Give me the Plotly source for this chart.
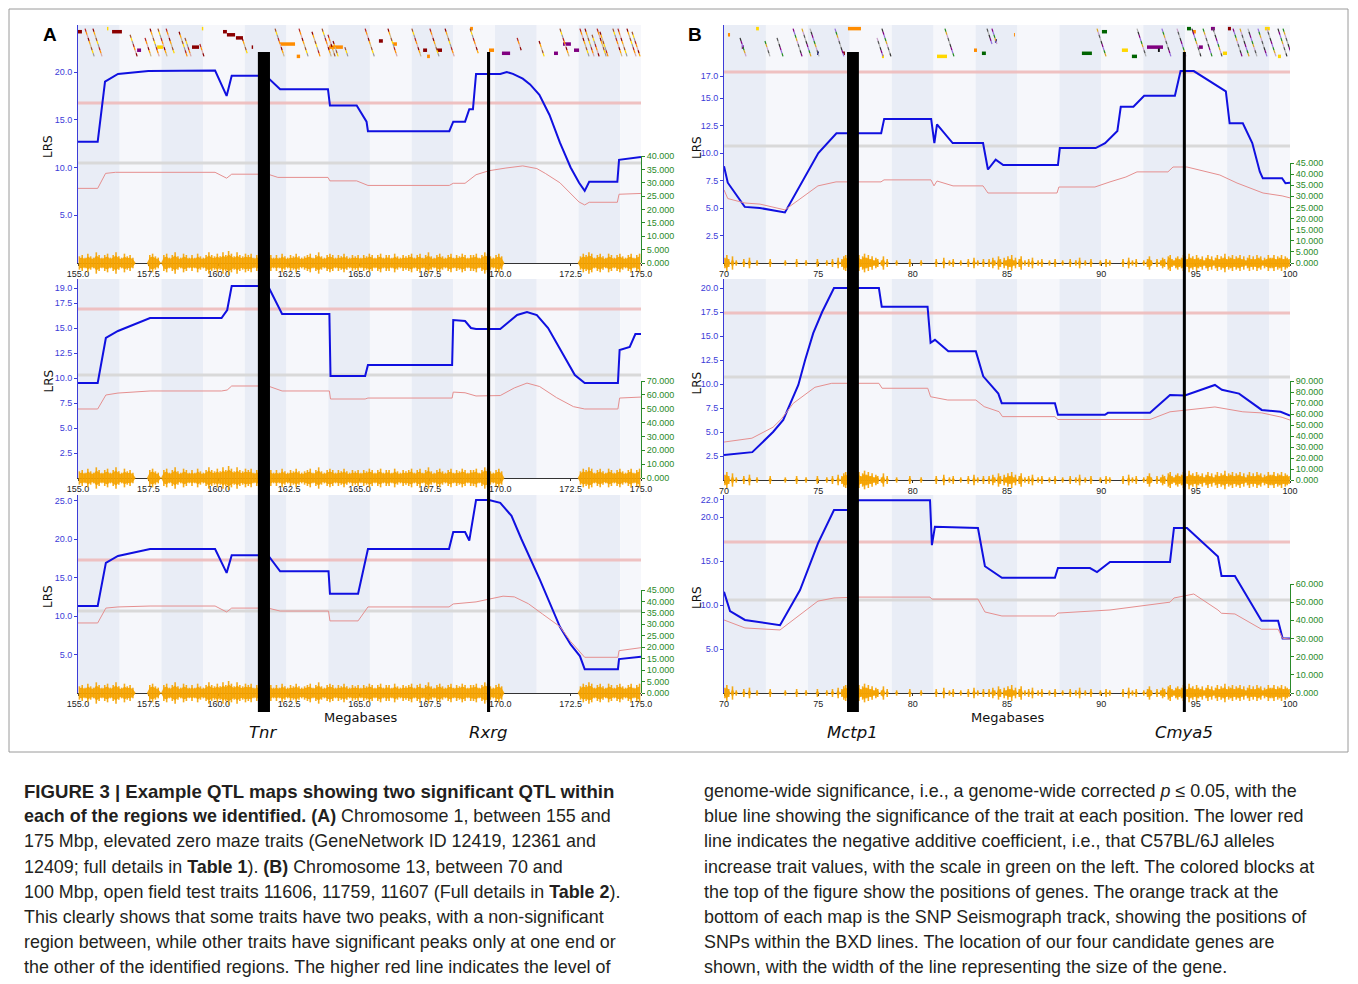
import plotly.graph_objects as go

W, H = 1358, 984

# ---------------- DATA ----------------
# Panel A: Chr 1, 155-175 Mb
A_RANGE = [155.0, 175.0]
A_XTICKS = [155.0, 157.5, 160.0, 162.5, 165.0, 167.5, 170.0, 172.5, 175.0]
A_XTICKTEXT = ["155.0", "157.5", "160.0", "162.5", "165.0", "167.5", "170.0", "172.5", "175.0"]

a1_mb = [155.0, 155.7, 155.96, 156.42, 157.5, 159.87, 160.28, 160.46, 161.6, 161.75, 162.18, 163.88, 163.95,
         164.9, 165.25, 165.3, 168.19, 168.33, 168.75, 168.9, 169.03, 169.14, 170.0, 170.23, 170.45, 170.8,
         171.06, 171.39, 171.75, 172.12, 172.5, 172.8, 173.0, 173.16, 174.16, 174.22, 175.0]
a1_lrs = [12.7, 12.7, 19.0, 19.8, 20.1, 20.15, 17.5, 19.6, 19.6, 19.4, 18.2, 18.2, 16.5,
          16.5, 14.8, 13.8, 13.8, 14.8, 14.8, 16.1, 16.1, 19.8, 19.8, 20.0, 19.8, 19.3,
          18.7, 17.6, 15.5, 12.6, 10.0, 8.4, 7.55, 8.5, 8.5, 10.8, 11.1]
a1_add_mb = [155.0, 155.7, 155.98, 156.33, 159.87, 160.28, 160.46, 161.75, 162.1, 163.88, 163.95, 164.9, 165.3,
             168.19, 168.33, 168.75, 169.14, 169.6, 170.2, 170.8, 171.3, 171.6, 172.12, 172.5, 172.8, 173.0,
             173.16, 174.16, 174.22, 175.0]
a1_add = [27.9, 27.9, 33.5, 33.9, 33.9, 31.7, 33.2, 33.2, 32.0, 32.0, 30.7, 30.7, 29.0,
          29.0, 29.8, 29.8, 33.0, 34.5, 35.5, 36.3, 35.3, 33.5, 30.0, 25.8, 22.8, 21.7,
          22.7, 22.7, 25.7, 26.0]

a2_mb = [155.0, 155.7, 155.99, 156.42, 157.56, 160.1, 160.3, 160.46, 161.75, 162.25, 163.93, 163.97, 165.2,
         165.3, 168.29, 168.33, 168.75, 168.96, 169.14, 170.0, 170.3, 170.6, 170.95, 171.3, 171.7, 172.1,
         172.4, 172.65, 173.0, 174.18, 174.24, 174.6, 174.8, 175.0]
a2_lrs = [9.5, 9.5, 14.0, 14.7, 16.0, 16.0, 16.8, 19.2, 19.2, 16.4, 16.4, 10.2, 10.2,
          11.3, 11.3, 15.8, 15.7, 15.0, 14.9, 14.9, 15.6, 16.3, 16.6, 16.3, 15.0, 13.0,
          11.5, 10.3, 9.5, 9.5, 12.8, 13.1, 14.4, 14.4]
a2_add_mb = [155.0, 155.7, 155.99, 156.42, 157.56, 160.1, 160.3, 160.46, 161.75, 162.25, 163.93, 163.97, 165.2,
             165.3, 168.29, 168.33, 168.75, 169.14, 170.0, 170.5, 170.95, 171.4, 172.0, 172.6, 173.0, 174.18,
             174.24, 175.0]
a2_add = [49.8, 49.8, 59.9, 61.3, 62.8, 62.8, 63.5, 66.4, 66.4, 62.8, 62.8, 57.0, 57.0,
          57.7, 57.7, 62.0, 61.5, 59.2, 59.5, 65.0, 68.5, 66.0, 58.0, 51.5, 49.8, 49.8,
          57.7, 58.4]

a3_mb = [155.0, 155.7, 155.99, 156.42, 157.56, 159.87, 160.28, 160.46, 161.75, 162.18, 163.9, 163.95, 164.95,
         165.3, 168.18, 168.33, 168.75, 168.9, 169.14, 169.6, 170.0, 170.4, 170.75, 171.41, 172.12, 172.5,
         172.83, 173.0, 174.18, 174.22, 175.0]
a3_lrs = [11.3, 11.3, 16.9, 17.8, 18.7, 18.7, 15.6, 17.9, 17.9, 15.8, 15.8, 12.9, 12.9,
          18.7, 18.7, 20.9, 20.9, 19.8, 25.06, 25.06, 24.7, 23.0, 20.0, 14.7, 8.6, 6.3,
          4.8, 3.1, 3.1, 4.4, 4.7]
a3_add_mb = [155.0, 155.7, 155.99, 156.42, 157.56, 159.87, 160.28, 160.46, 161.75, 162.18, 163.9, 163.95, 164.95,
             165.3, 168.18, 168.33, 169.14, 169.6, 170.1, 170.5, 171.0, 171.5, 172.12, 172.5, 173.0, 174.18,
             174.22, 175.0]
a3_add = [30.6, 30.6, 37.1, 37.6, 38.0, 38.0, 35.4, 37.1, 37.1, 35.8, 35.8, 31.5, 31.5,
          37.6, 37.6, 38.9, 39.8, 41.0, 42.3, 42.0, 39.0, 34.5, 29.0, 22.5, 15.6, 15.6,
          18.5, 19.8]

A_SIG = [16.75, 16.9, 17.27]
A_SUG = [10.47, 10.3, 10.65]
A_YTICKS = [[5, 10, 15, 20], [2.5, 5, 7.5, 10, 12.5, 15, 17.5, 19], [5, 10, 15, 20, 25]]
A_ADD_MAX = [40, 70, 45]
A_ADD_STEP = [5, 10, 5]

# SNP seismograph, chr1, 0.1 Mb bins from 155.0
A_SNP = [5, 6, 4, 7, 5, 4, 8, 6, 4, 6,
         7, 4, 6, 8, 5, 4, 7, 5, 6, 4,
         0, 0, 0, 0, 0, 6, 7, 5, 4, 0,
         6, 7, 4, 6, 8, 5, 4, 7, 6, 4,
         6, 4, 7, 5, 4, 6, 8, 6, 5, 7,
         5, 8, 6, 9, 7, 5, 8, 6, 5, 7,
         6, 7, 4, 6, 5, 4, 7, 5, 6, 4,
         6, 4, 7, 5, 4, 6, 5, 7, 5, 4,
         5, 6, 7, 4, 6, 8, 5, 4, 6, 7,
         6, 4, 6, 5, 7, 5, 4, 6, 5, 6,
         4, 6, 5, 7, 6, 4, 6, 7, 4, 6,
         6, 4, 7, 5, 4, 6, 5, 6, 7, 4,
         6, 7, 4, 6, 8, 5, 4, 6, 7, 5,
         4, 6, 7, 4, 6, 5, 7, 6, 4, 6,
         6, 7, 4, 6, 8, 7, 5, 4, 6, 7,
         5, 0, 0, 0, 0, 0, 0, 0, 0, 0,
         0, 0, 0, 0, 0, 0, 0, 0, 0, 0,
         0, 0, 0, 0, 0, 0, 0, 0, 5, 7,
         6, 8, 7, 4, 6, 7, 5, 4, 7, 6,
         4, 6, 7, 5, 4, 6, 7, 4, 6, 7]

# genes (chr1)
A_BLK_START = [155.0, 156.21, 156.03, 157.10, 157.81, 159.05, 159.40, 160.15, 160.29, 160.61, 161.17, 162.18,
               162.77, 163.92, 165.69, 166.19, 167.26, 167.40, 167.75, 168.93, 169.60, 170.06, 171.91, 172.23, 172.62]
A_BLK_END = [155.14, 156.56, 156.08, 157.24, 158.02, 159.30, 159.45, 160.29, 160.58, 160.86, 161.22, 162.71,
             162.89, 164.41, 165.83, 166.33, 167.40, 167.50, 167.93, 169.03, 169.78, 170.35, 172.05, 172.51, 172.80]
A_BLK_LEVEL = [1, 1, 0, 7, 6, 6, 0, 1, 2, 3, 6, 5, 9, 6, 4, 5, 7, 9, 7, 0, 7, 8, 8, 5, 7]
A_BLK_COLOR = ["#8b0000", "#8b0000", "#ffd700", "#800080", "#ffd700", "#8b0000", "#ffd700", "#8b0000",
               "#8b0000", "#8b0000", "#8b0000", "#ff8c00", "#ff8c00", "#ff8c00", "#8b0000", "#ff8c00",
               "#8b0000", "#ff8c00", "#8b0000", "#ff8c00", "#ff8c00", "#800080", "#800080", "#800080", "#800080"]
A_STK_START = [155.25, 155.53, 156.85, 157.38, 157.56, 157.84, 158.13, 158.59, 158.80, 159.33, 160.83, 162.0,
               162.85, 163.31, 163.67, 163.88, 164.06, 164.48, 165.20, 166.01, 166.86, 167.50, 168.04, 168.93,
               170.60, 171.38, 172.12, 172.83, 173.01, 173.26, 173.44, 173.54, 174.0, 174.18, 174.5, 174.68]
A_STK_TOP = [0, 0, 2, 3, 0, 0, 0, 1, 3, 5, 3, 0, 0, 1, 0, 2, 4, 6, 0, 0, 0, 0, 0, 0, 3, 4, 0, 0, 0, 2, 0, 1,
             0, 0, 0, 1]
A_STK_LEN = [9, 9, 7, 6, 9, 9, 8, 8, 6, 4, 5, 9, 9, 8, 9, 7, 5, 3, 9, 9, 9, 9, 9, 8, 4, 5, 9, 9, 9, 7, 9, 8,
             9, 9, 9, 8]
A_GENES = ["Tnr", "Rxrg"]
A_GENE_START = [161.39, 169.53]
A_GENE_END = [161.82, 169.64]

# Panel B: Chr 13, 70-100 Mb
B_RANGE = [70.0, 100.0]
B_XTICKS = [70, 75, 80, 85, 90, 95, 100]
B_XTICKTEXT = ["70", "75", "80", "85", "90", "95", "100"]

b1_mb = [70.0, 70.2, 71.1, 71.9, 73.23, 75.0, 75.96, 78.33, 78.49, 80.98, 81.15, 81.29, 82.12, 83.73, 83.99,
         84.4, 84.8, 87.7, 87.8, 89.7, 90.2, 90.85, 91.03, 91.7, 92.27, 93.9, 94.2, 94.9, 96.6, 96.8, 97.5,
         98.0, 98.4, 98.56, 99.58, 99.76, 100.0]
b1_lrs = [8.8, 7.3, 5.1, 5.0, 4.6, 10.0, 11.8, 11.8, 13.1, 13.1, 10.9, 12.6, 10.9, 10.9, 8.5,
          9.4, 8.9, 8.9, 10.45, 10.45, 10.9, 12.0, 14.2, 14.2, 15.2, 15.2, 17.45, 17.45, 15.6, 12.7, 12.7,
          10.9, 8.3, 7.7, 7.7, 7.25, 7.3]
b1_add_mb = [70.0, 70.2, 71.11, 71.91, 73.23, 74.98, 75.94, 78.32, 78.48, 80.97, 81.13, 81.29, 82.14, 83.73,
             83.99, 84.84, 87.65, 87.75, 89.66, 90.46, 91.3, 91.89, 93.53, 93.8, 94.54, 96.28, 97.19, 98.57,
             99.58, 100.0]
b1_add = [32.9, 29.0, 27.0, 26.5, 23.9, 34.7, 36.5, 36.5, 37.4, 37.4, 34.7, 36.9, 34.7, 34.7,
          31.5, 31.5, 31.5, 34.2, 34.2, 36.5, 38.7, 41.0, 41.0, 43.2, 43.2, 39.6, 36.0, 31.5,
          30.2, 29.3]

b2_mb = [70.0, 71.5, 72.6, 73.14, 73.94, 74.3, 74.73, 75.2, 75.83, 78.21, 78.36, 80.79, 80.95, 81.18, 81.89,
         83.35, 83.74, 84.54, 84.72, 87.54, 87.7, 90.19, 90.35, 92.58, 93.64, 94.43, 96.02, 96.39, 97.3,
         98.5, 99.5, 100.0]
b2_lrs = [2.6, 2.9, 5.0, 6.25, 9.9, 12.5, 15.3, 17.5, 20.0, 20.0, 18.05, 18.05, 14.3, 14.6, 13.4,
          13.4, 10.8, 9.0, 8.0, 8.0, 6.8, 6.8, 7.0, 7.0, 8.85, 8.8, 9.9, 9.4, 9.0,
          7.3, 7.1, 6.7]
b2_add_mb = [70.0, 71.48, 72.6, 73.07, 73.67, 74.38, 74.82, 75.71, 78.21, 78.38, 80.8, 80.95, 81.86, 83.35,
             83.79, 84.58, 84.76, 87.54, 87.7, 92.58, 93.64, 96.02, 97.5, 98.5, 99.58, 100.0]
b2_add = [34.5, 38.0, 48.0, 56.0, 69.7, 78.8, 84.3, 87.9, 87.9, 83.4, 83.4, 75.7, 72.7, 72.7,
          66.7, 62.1, 57.6, 57.6, 55.0, 55.0, 62.0, 66.4, 62.0, 61.0, 57.0, 54.5]

b3_mb = [70.0, 70.32, 71.11, 72.97, 74.03, 74.98, 75.83, 76.94, 77.1, 80.92, 81.02, 81.18, 83.46, 83.83,
         84.73, 87.54, 87.7, 89.4, 89.77, 90.46, 93.64, 93.85, 94.54, 96.18, 96.37, 97.08, 98.49, 99.37,
         99.61, 100.0]
b3_lrs = [11.5, 9.3, 8.3, 7.7, 11.7, 17.0, 20.8, 20.8, 21.9, 21.9, 16.8, 18.9, 18.75, 14.4,
          13.1, 13.1, 14.2, 14.2, 13.75, 14.9, 14.9, 18.75, 18.75, 15.5, 13.3, 13.3, 8.2, 8.2,
          6.2, 6.2]
b3_add_mb = [70.0, 71.11, 72.97, 74.03, 74.98, 75.83, 77.1, 80.92, 81.02, 83.46, 83.83, 84.73, 87.54, 87.7,
             90.46, 93.64, 93.85, 94.9, 96.18, 96.37, 97.08, 98.49, 99.37, 99.61, 100.0]
b3_add = [40.2, 35.8, 34.7, 42.9, 50.6, 52.3, 52.8, 52.8, 51.7, 51.7, 44.6, 42.4, 42.4, 44.0,
          45.7, 50.0, 52.3, 54.5, 45.7, 43.9, 43.5, 35.1, 35.1, 30.1, 29.7]

B_SIG = [17.36, 17.4, 17.16]
B_SUG = [10.64, 10.73, 10.57]
B_YTICKS = [[2.5, 5, 7.5, 10, 12.5, 15, 17], [2.5, 5, 7.5, 10, 12.5, 15, 17.5, 20], [5, 10, 15, 20, 22]]
B_ADD_MAX = [45, 90, 60]
B_ADD_STEP = [5, 10, 10]

# SNP seismograph, chr13, 0.1 Mb bins from 70.0
B_SNP = [4, 6, 3, 0, 5, 0, 2, 0, 0, 0,
         3, 0, 0, 4, 0, 0, 0, 2, 0, 0,
         0, 0, 0, 0, 3, 0, 0, 0, 0, 0,
         0, 0, 2, 0, 0, 0, 0, 0, 3, 0,
         0, 0, 0, 2, 0, 0, 0, 0, 0, 3,
         0, 0, 0, 0, 2, 0, 0, 3, 0, 0,
         4, 0, 3, 5, 6, 4, 7, 5, 6, 4,
         5, 6, 3, 5, 7, 4, 6, 3, 5, 2,
         4, 3, 0, 2, 5, 0, 3, 0, 0, 0,
         0, 2, 0, 0, 0, 0, 0, 0, 3, 0,
         0, 0, 0, 0, 2, 0, 0, 0, 0, 0,
         0, 0, 3, 0, 0, 0, 4, 0, 0, 2,
         0, 3, 0, 0, 0, 2, 0, 0, 0, 3,
         0, 0, 4, 0, 2, 0, 0, 3, 0, 0,
         3, 0, 4, 2, 0, 5, 3, 0, 4, 2,
         5, 3, 6, 2, 4, 0, 3, 5, 0, 2,
         0, 3, 0, 4, 0, 0, 2, 0, 3, 0,
         0, 0, 2, 0, 0, 3, 0, 0, 0, 2,
         0, 0, 0, 3, 0, 0, 2, 0, 4, 0,
         0, 2, 0, 0, 3, 0, 0, 0, 0, 2,
         0, 0, 3, 0, 2, 0, 0, 0, 0, 0,
         0, 3, 0, 0, 4, 0, 2, 0, 3, 0,
         0, 0, 2, 0, 3, 5, 2, 0, 0, 3,
         0, 2, 4, 3, 0, 5, 6, 3, 2, 4,
         5, 3, 4, 6, 5, 3, 7, 4, 5, 3,
         6, 4, 3, 5, 2, 4, 6, 3, 5, 2,
         4, 6, 3, 5, 4, 7, 3, 5, 4, 6,
         3, 5, 4, 6, 3, 5, 2, 4, 6, 3,
         5, 3, 6, 4, 5, 2, 4, 3, 6, 4,
         4, 6, 3, 5, 4, 6, 3, 5, 4, 3]

B_BLK_START = [71.70, 70.21, 76.57, 74.93, 76.31, 78.37, 81.29, 83.25, 83.67, 84.36, 88.97, 90.03, 91.09,
               91.62, 92.42, 93.0, 94.54, 94.85, 95.17, 95.81, 96.71, 96.44, 98.67, 99.36, 85.37, 70.94]
B_BLK_END = [71.85, 70.32, 77.26, 75.03, 76.41, 78.48, 81.82, 83.41, 83.88, 84.47, 89.50, 90.30, 91.41,
             91.89, 93.27, 93.1, 94.75, 95.01, 95.38, 96.02, 96.87, 96.66, 98.93, 99.52, 85.42, 71.06]
B_BLK_LEVEL = [0, 2, 0, 8, 8, 9, 9, 7, 8, 4, 8, 1, 7, 9, 6, 7, 0, 1, 6, 0, 0, 8, 0, 9, 2, 6]
B_BLK_COLOR = ["#ffd700", "#ff8c00", "#ff8c00", "#00008b", "#8b0000", "#ffd700", "#ffd700", "#ff8c00",
               "#006400", "#00008b", "#006400", "#006400", "#ffd700", "#006400", "#800080", "#111111",
               "#006400", "#ff8c00", "#800080", "#800080", "#8b0000", "#ffd700", "#ffd700", "#ffd700",
               "#ff8c00", "#800080"]
B_STK_START = [70.85, 72.17, 72.81, 73.66, 74.13, 74.56, 75.88, 78.11, 78.37, 81.71, 83.94, 84.20, 89.77,
               91.89, 93.21, 94.01, 94.80, 95.39, 95.92, 96.98, 97.35, 97.77, 98.30, 98.78, 99.36, 99.63]
B_STK_TOP = [3, 4, 3, 0, 0, 0, 0, 3, 0, 0, 0, 0, 0, 0, 0, 0, 0, 0, 0, 0, 0, 0, 0, 0, 0, 0]
B_STK_LEN = [6, 5, 6, 9, 9, 9, 9, 6, 9, 9, 5, 5, 9, 9, 9, 9, 9, 9, 9, 9, 9, 9, 9, 9, 9, 9]
B_GENES = ["Mctp1", "Cmya5"]
B_GENE_START = [76.52, 94.32]
B_GENE_END = [77.15, 94.48]

CAPTION_LEFT = [
    "<b>FIGURE 3 | Example QTL maps showing two significant QTL within</b>",
    "<b>each of the regions we identified. (A)</b> Chromosome 1, between 155 and",
    "175 Mbp, elevated zero maze traits (GeneNetwork ID 12419, 12361 and",
    "12409; full details in <b>Table 1</b>). <b>(B)</b> Chromosome 13, between 70 and",
    "100 Mbp, open field test traits 11606, 11759, 11607 (Full details in <b>Table 2</b>).",
    "This clearly shows that some traits have two peaks, with a non-significant",
    "region between, while other traits have significant peaks only at one end or",
    "the other of the identified regions. The higher red line indicates the level of",
]
CAPTION_RIGHT = [
    "genome-wide significance, i.e., a genome-wide corrected <i>p</i> ≤ 0.05, with the",
    "blue line showing the significance of the trait at each position. The lower red",
    "line indicates the negative additive coefficient, i.e., that C57BL/6J alleles",
    "increase trait values, with the scale in green on the left. The colored blocks at",
    "the top of the figure show the positions of genes. The orange track at the",
    "bottom of each map is the SNP Seismograph track, showing the positions of",
    "SNPs within the BXD lines. The location of our four candidate genes are",
    "shown, with the width of the line representing the size of the gene.",
]

# ---------------- STYLE / LAYOUT ----------------
def fx(px):
    return px / W


def fy(py):
    return 1 - py / H


BLUE = "#1010e0"
AXBLUE = "#3c3cd8"
GREEN = "#2a8a2a"
RED = "#e58f8f"
SIG_C = "rgba(238,190,190,0.95)"
SUG_C = "#d9d9d9"
ORANGE = "#f5a300"
DARK_BAND = "#e9edf6"
LIGHT_BAND = "#f6f7fb"

panels = [
    dict(xdom=[fx(78), fx(641)], xr=A_RANGE, xt=A_XTICKS, xtt=A_XTICKTEXT,
         rows=[(25, 263), (279, 478), (495, 693)], ppu=[9.55, 10.0, 7.7],
         addtop=[156, 381, 590], addmax=A_ADD_MAX, addstep=A_ADD_STEP,
         yt=A_YTICKS, sig=A_SIG, sug=A_SUG,
         lrs=[(a1_mb, a1_lrs), (a2_mb, a2_lrs), (a3_mb, a3_lrs)],
         add=[(a1_add_mb, a1_add), (a2_add_mb, a2_add), (a3_add_mb, a3_add)],
         snp=A_SNP, blk=(A_BLK_START, A_BLK_END, A_BLK_LEVEL, A_BLK_COLOR),
         stk=(A_STK_START, A_STK_TOP, A_STK_LEN), stkdx=0.036,
         stkpal=["#b22222", "#ff8c00", "#d8a8a8", "#8b0000", "#ffa500", "#c8b48c", "#a0522d", "#ffd700", "#999999"],
         genes=(A_GENES, A_GENE_START, A_GENE_END), letter="A", letx=50, lrsx=48, megx=360),
    dict(xdom=[fx(724), fx(1290)], xr=B_RANGE, xt=B_XTICKS, xtt=B_XTICKTEXT,
         rows=[(25, 263), (279, 480), (495, 693)], ppu=[11.0, 9.6, 8.8],
         addtop=[163, 381, 584], addmax=B_ADD_MAX, addstep=B_ADD_STEP,
         yt=B_YTICKS, sig=B_SIG, sug=B_SUG,
         lrs=[(b1_mb, b1_lrs), (b2_mb, b2_lrs), (b3_mb, b3_lrs)],
         add=[(b1_add_mb, b1_add), (b2_add_mb, b2_add), (b3_add_mb, b3_add)],
         snp=B_SNP, blk=(B_BLK_START, B_BLK_END, B_BLK_LEVEL, B_BLK_COLOR),
         stk=(B_STK_START, B_STK_TOP, B_STK_LEN), stkdx=0.053,
         stkpal=["#333333", "#800080", "#9370db", "#228b22", "#daa520", "#c8a0c8", "#555555", "#b0b0b0"],
         genes=(B_GENES, B_GENE_START, B_GENE_END), letter="B", letx=695, lrsx=697, megx=1007),
]

fig = go.Figure()
layout = dict(template="none", width=W, height=H, margin=dict(l=0, r=0, t=0, b=0, pad=0, autoexpand=False),
              paper_bgcolor="white", plot_bgcolor="rgba(0,0,0,0)", showlegend=False, autosize=False)
shapes = []
annotations = []


def sfx(k):
    return "" if k == 1 else str(k)


def note(text, x, y, size, family="DejaVu Sans", color="#111", xref="paper", **kw):
    d = dict(text=text, x=x, y=y, xref=xref, yref="paper", showarrow=False, xanchor="center",
             yanchor="middle", font=dict(family=family, size=size, color=color))
    d.update(kw)
    annotations.append(d)


tickfont = dict(family="Liberation Sans, Arial, sans-serif", size=9)

for p, P in enumerate(panels):
    xr = P["xr"]
    bandw = (xr[1] - xr[0]) / 13.5
    for r in range(3):
        k = p * 3 + r + 1
        top, bot = P["rows"][r]
        lrs_top = (bot - top) / P["ppu"][r]
        xa = "x" + sfx(k)
        ya = "y" + sfx(k)
        layout["xaxis" + sfx(k)] = dict(
            domain=P["xdom"], range=xr, anchor=ya, showline=True, linecolor="#333", linewidth=1,
            ticks="outside", ticklen=2, tickcolor="#333", tickmode="array", tickvals=P["xt"],
            ticktext=P["xtt"], tickfont=dict(tickfont, color="#222"), showgrid=False, zeroline=False,
            automargin=False)
        layout["yaxis" + sfx(k)] = dict(
            domain=[fy(bot), fy(top)], range=[0, lrs_top], anchor=xa, showline=True,
            linecolor=AXBLUE, linewidth=1, ticks="outside", ticklen=3, tickcolor=AXBLUE,
            tickmode="array", tickvals=P["yt"][r], ticktext=["%.1f" % v for v in P["yt"][r]],
            tickfont=dict(tickfont, color=AXBLUE), showgrid=False, zeroline=False, automargin=False)
        gk = 6 + k
        layout["yaxis" + str(gk)] = dict(
            domain=[fy(bot), fy(P["addtop"][r])], range=[0, P["addmax"][r]], anchor=xa, side="right",
            showline=True, linecolor=GREEN, linewidth=1, ticks="outside", ticklen=3, tickcolor=GREEN,
            tickmode="linear", tick0=0, dtick=P["addstep"][r], tickformat=".3f",
            tickfont=dict(tickfont, color=GREEN), showgrid=False, zeroline=False, automargin=False)
        sk = 12 + k
        layout["yaxis" + str(sk)] = dict(domain=[fy(bot + 16), fy(bot - 16)], range=[-12, 12],
                                         anchor=xa, visible=False, fixedrange=True, automargin=False)

        # background bands
        for i in range(14):
            x0 = xr[0] + i * bandw
            x1 = min(xr[1], x0 + bandw)
            shapes.append(dict(type="rect", xref=xa, yref=ya + " domain", x0=x0, x1=x1, y0=0, y1=1,
                               fillcolor=DARK_BAND if i % 2 == 0 else LIGHT_BAND, line=dict(width=0),
                               layer="below"))

        # thresholds
        fig.add_trace(go.Scatter(x=xr, y=[P["sug"][r]] * 2, mode="lines", xaxis=xa, yaxis=ya,
                                 line=dict(color=SUG_C, width=3), hoverinfo="skip"))
        fig.add_trace(go.Scatter(x=xr, y=[P["sig"][r]] * 2, mode="lines", xaxis=xa, yaxis=ya,
                                 line=dict(color=SIG_C, width=3), hoverinfo="skip"))
        # SNP seismograph: soft core + vertical spikes
        snp = P["snp"]
        centers = [xr[0] + 0.05 + 0.1 * i for i in range(len(snp))]
        sx = centers + centers[::-1]
        sy = [0.7 * v for v in snp] + [-0.7 * v for v in snp[::-1]]
        fig.add_trace(go.Scatter(x=sx, y=sy, mode="lines", fill="toself", fillcolor="rgba(245,163,0,0.9)",
                                 line=dict(width=0), xaxis=xa, yaxis="y" + str(sk), hoverinfo="skip"))
        spx, spy = [], []
        for c, v in zip(centers, snp):
            if v > 0:
                spx.extend([c, c, None])
                spy.extend([-v, v, None])
        fig.add_trace(go.Scatter(x=spx, y=spy, mode="lines", line=dict(color="rgba(245,163,0,0.9)", width=1.6),
                                 xaxis=xa, yaxis="y" + str(sk), hoverinfo="skip"))
        # additive (red)
        amb, aval = P["add"][r]
        fig.add_trace(go.Scatter(x=amb, y=aval, mode="lines", xaxis=xa, yaxis="y" + str(gk),
                                 line=dict(color=RED, width=1)))
        # LRS (blue)
        lmb, lval = P["lrs"][r]
        fig.add_trace(go.Scatter(x=lmb, y=lval, mode="lines", xaxis=xa, yaxis=ya,
                                 line=dict(color=BLUE, width=2)))

        note("LRS", fx(P["lrsx"]), fy((top + bot) / 2 + 3), 12, textangle=-90)

    # gene track axis (top row)
    gaxis = 19 + p
    xa1 = "x" + sfx(p * 3 + 1)
    layout["yaxis" + str(gaxis)] = dict(domain=[fy(61), fy(24)], range=[10.5, -1.5], anchor=xa1,
                                        visible=False, fixedrange=True, automargin=False)
    bs, be, bl, bc = P["blk"]
    groups = {}
    for s, e, lv, c in zip(bs, be, bl, bc):
        g = groups.setdefault(c, ([], []))
        g[0].extend([s, e, None])
        g[1].extend([lv, lv, None])
    for c, (gx, gy) in groups.items():
        fig.add_trace(go.Scatter(x=gx, y=gy, mode="lines", xaxis=xa1, yaxis="y" + str(gaxis),
                                 line=dict(color=c, width=3.5), hoverinfo="skip"))
    ss, st, sl = P["stk"]
    pal = P["stkpal"]
    sgroups = {}
    for i, (s, t, n) in enumerate(zip(ss, st, sl)):
        for j in range(n):
            c = pal[(i * 3 + j) % len(pal)]
            g = sgroups.setdefault(c, ([], []))
            g[0].extend([s + j * P["stkdx"], s + (j + 1) * P["stkdx"], None])
            g[1].extend([t + j, t + j + 1, None])
    for c, (gx, gy) in sgroups.items():
        fig.add_trace(go.Scatter(x=gx, y=gy, mode="lines", xaxis=xa1, yaxis="y" + str(gaxis),
                                 line=dict(color=c, width=1.2), hoverinfo="skip"))

    # candidate genes (black bars) + labels
    gn, gs, ge = P["genes"]
    for name, s, e in zip(gn, gs, ge):
        shapes.append(dict(type="rect", xref=xa1, yref="paper", x0=s, x1=e, y0=fy(712), y1=fy(52),
                           fillcolor="black", line=dict(width=0), layer="above"))
        note("<i>%s</i>" % name, (s + e) / 2, fy(732), 16.5, xref=xa1)

    note("Megabases", fx(P["megx"]), fy(717), 13)
    note("<b>%s</b>" % P["letter"], fx(P["letx"]), fy(35), 19, family="Liberation Sans, Arial", color="black")

# figure frame
shapes.append(dict(type="rect", xref="paper", yref="paper", x0=fx(9), x1=fx(1348), y0=fy(752), y1=fy(9),
                   line=dict(color="#9a9a9a", width=1), fillcolor="rgba(0,0,0,0)", layer="above"))

# caption
for i, (lt, rt) in enumerate(zip(CAPTION_LEFT, CAPTION_RIGHT)):
    yy = fy(791 + i * 25.2)
    lsize = 18.6 if i == 0 else 17.9
    note(lt, fx(22), yy, lsize, family="Liberation Sans, Arial", color="#231f20", xanchor="left")
    note(rt, fx(702), yy, 17.9, family="Liberation Sans, Arial", color="#231f20", xanchor="left")

layout["shapes"] = shapes
layout["annotations"] = annotations
fig.update_layout(**layout)
fig.write_html("out.html", config={"displayModeBar": False},
               post_script="document.body.style.margin='0';document.body.style.padding='0';"
                           "document.body.style.overflow='hidden';"
                           "document.documentElement.style.overflow='hidden';")
